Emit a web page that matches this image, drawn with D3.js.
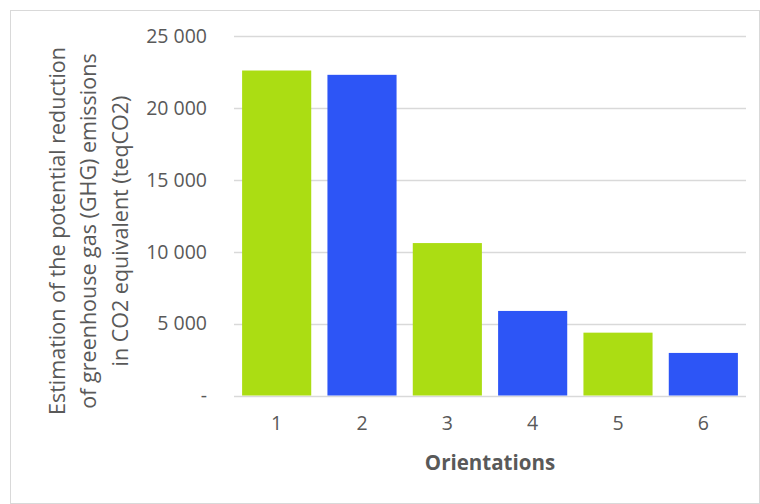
<!DOCTYPE html>
<html>
<head>
<meta charset="utf-8">
<script src="https://cdn.jsdelivr.net/npm/d3@7"></script>
<style>
  body { margin: 0; background: #fff; }
  text { font-family: "Open Sans", sans-serif; }
</style>
</head>
<body>
<div id="chart"></div>
<script>
const categories = ["1", "2", "3", "4", "5", "6"];
const values = [22600, 22300, 10600, 5880, 4370, 2960];
const barColors = ["#abdd13", "#2d55f6", "#abdd13", "#2d55f6", "#abdd13", "#2d55f6"];
const yTicks = [0, 5000, 10000, 15000, 20000, 25000];
const yTitleLines = [
    "Estimation of the potential reduction",
    "of greenhouse gas (GHG) emissions",
    "in CO2 equivalent (teqCO2)"
];
const xTitle = "Orientations";

const width = 760, height = 504;
const margin = {top: 36, left: 234, bottom: 108.5, right: 14};

const svg = d3.select("#chart").append("svg")
    .attr("width", width)
    .attr("height", height);

// outer chart border
svg.append("rect")
    .attr("x", 10.5).attr("y", 10.5)
    .attr("width", width - 11).attr("height", height - 11)
    .attr("fill", "none")
    .attr("stroke", "#d9d9d9");

const x = d3.scaleBand()
    .domain(categories)
    .range([margin.left, width - margin.right])
    .paddingInner(0.19)
    .paddingOuter(0.095);

const y = d3.scaleLinear()
    .domain([0, 25000])
    .range([height - margin.bottom, margin.top]);

const fmt = v => v === 0 ? "-" : d3.format(",")(v).replace(/,/g, " ");

// gridlines
svg.append("g")
    .selectAll("line")
    .data(yTicks)
    .join("line")
    .attr("x1", margin.left)
    .attr("x2", width - margin.right)
    .attr("y1", d => Math.round(y(d)) + 0.5)
    .attr("y2", d => Math.round(y(d)) + 0.5)
    .attr("stroke", "#d9d9d9")
    .attr("stroke-width", 1.5);

// y labels
svg.append("g")
    .selectAll("text")
    .data(yTicks)
    .join("text")
    .attr("x", 207)
    .attr("y", d => y(d))
    .attr("dy", "0.35em")
    .attr("text-anchor", "end")
    .attr("fill", "#595959")
    .style("font-size", "19.5px")
    .text(fmt);

// bars
svg.append("g")
    .selectAll("rect")
    .data(values)
    .join("rect")
    .attr("x", (d, i) => x(categories[i]))
    .attr("y", d => y(d))
    .attr("width", x.bandwidth())
    .attr("height", d => y(0) - y(d))
    .attr("fill", (d, i) => barColors[i]);

// x labels
svg.append("g")
    .selectAll("text")
    .data(categories)
    .join("text")
    .attr("x", d => x(d) + x.bandwidth() / 2)
    .attr("y", y(0) + 28)
    .attr("dy", "0.35em")
    .attr("text-anchor", "middle")
    .attr("fill", "#595959")
    .style("font-size", "19.5px")
    .text(d => d);

// x title
svg.append("text")
    .attr("x", (margin.left + width - margin.right) / 2)
    .attr("y", 463)
    .attr("dy", "0.35em")
    .attr("text-anchor", "middle")
    .attr("fill", "#595959")
    .style("font-size", "20.5px")
    .style("font-weight", "bold")
    .text(xTitle);

// y title
const yt = svg.append("text")
    .attr("transform", "translate(57,231) rotate(-90)")
    .attr("text-anchor", "middle")
    .attr("fill", "#595959")
    .style("font-size", "21.5px");
yt.selectAll("tspan")
    .data(yTitleLines)
    .join("tspan")
    .attr("x", 0)
    .attr("y", (d, i) => i * 31.5)
    .attr("dy", "0.35em")
    .text(d => d);
</script>
</body>
</html>
